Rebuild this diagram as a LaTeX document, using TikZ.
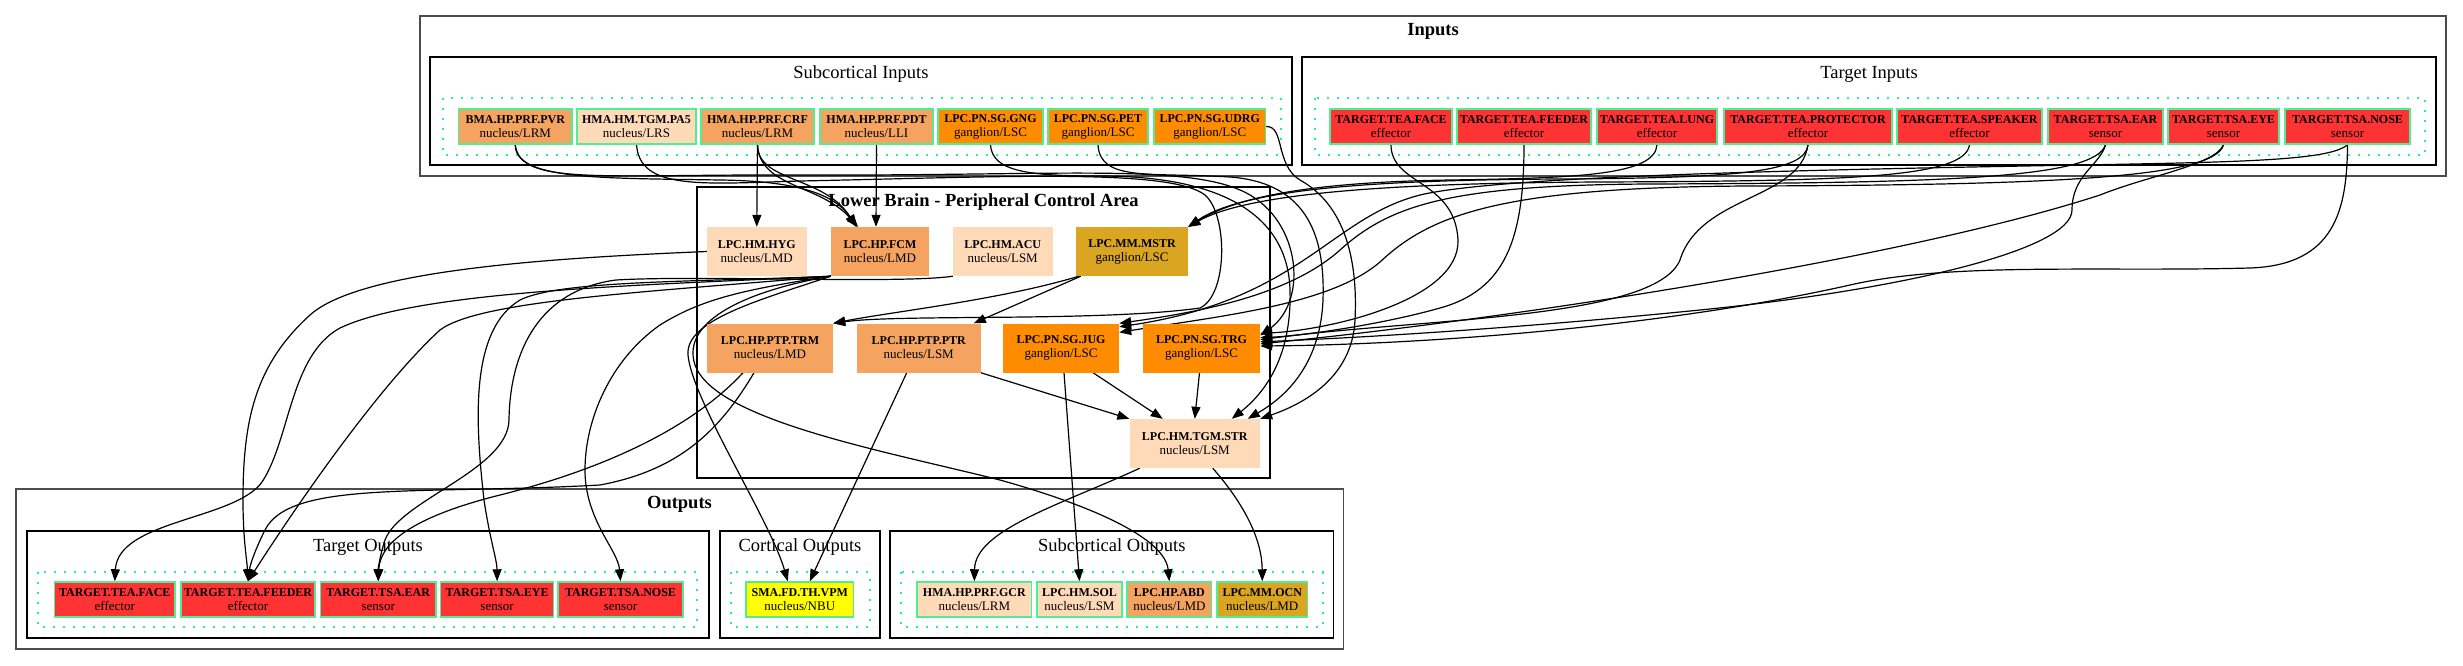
\documentclass[tikz,border=0pt]{standalone}
\usepackage{fontspec}
\setmainfont{Liberation Serif}
\usetikzlibrary{arrows.meta}
\definecolor{sandy}{HTML}{F4A460}
\definecolor{peach}{HTML}{FFDAB9}
\definecolor{dorange}{HTML}{FF8C00}
\definecolor{golden}{HTML}{DAA520}
\definecolor{tred}{HTML}{FF3333}
\definecolor{yel}{HTML}{FFFF00}
\definecolor{sgreen}{HTML}{4EEE94}
\definecolor{dotgreen}{HTML}{1CF59A}
\pgfdeclarelayer{bg}\pgfdeclarelayer{edgelayer}
\pgfsetlayers{bg,edgelayer,main}
\newcommand{\nlab}[2]{{\fontsize{12}{14}\selectfont\bfseries #1}\\{\fontsize{13}{14}\selectfont #2}}
\tikzset{
 outnode/.style={rectangle, draw=sgreen, line width=1.5pt, minimum height=35pt, inner sep=0pt, align=center, font=\fontsize{13}{14}\selectfont},
 innode/.style={rectangle, draw=none, minimum height=49pt, inner sep=0pt, align=center, font=\fontsize{13}{14}\selectfont},
 conn/.style={draw=black, line width=1.2pt, -{Triangle[length=12pt,width=9pt]}},
 bigbox/.style={draw=black!70, line width=1.8pt},
 subbox/.style={draw=black, line width=1.3pt},
 dotbox/.style={draw=dotgreen, line width=2pt, dash pattern=on 2pt off 8pt},
 ctitle/.style={anchor=base, inner sep=0pt, font=\fontsize{18.5}{20}\selectfont},
 btitle/.style={anchor=base, inner sep=0pt, font=\fontsize{18.5}{20}\selectfont\bfseries},
}
\begin{document}
\begin{tikzpicture}[x=1pt,y=-1pt]
\useasboundingbox (0,0) rectangle (2463,665);
% ---------------- clusters
\begin{pgfonlayer}{bg}
\fill[white] (0,0) rectangle (2463,665);
\draw[bigbox] (420,16) rectangle (2446,176);
\draw[subbox] (430,57) rectangle (1292,165);
\draw[subbox] (1302,57) rectangle (2436,165);
\draw[dotbox] (443,98) rectangle (1281,155);
\draw[dotbox] (1315,98) rectangle (2425,155);
\draw[subbox] (697,187) rectangle (1270,478);
\draw[bigbox] (15.6,489) rectangle (1343.5,649);
\draw[subbox] (27,531) rectangle (709,638);
\draw[subbox] (720,531) rectangle (880,638);
\draw[subbox] (890,531) rectangle (1333.5,638);
\draw[dotbox] (38,572) rectangle (697,627);
\draw[dotbox] (731,572) rectangle (869.5,627);
\draw[dotbox] (901,572) rectangle (1322.7,627);
\end{pgfonlayer}
\node[btitle] (tIn) at (1433,35) {Inputs};
\node[ctitle] (tSubIn) at (861,78) {Subcortical Inputs};
\node[ctitle] (tTarIn) at (1869,78) {Target Inputs};
\node[btitle] (tLB) at (983.5,206) {Lower Brain - Peripheral Control Area};
\node[btitle] (tOut) at (679.5,508) {Outputs};
\node[ctitle] (tTarOut) at (368,551) {Target Outputs};
\node[ctitle] (tCorOut) at (800,551) {Cortical Outputs};
\node[ctitle] (tSubOut) at (1111.75,551) {Subcortical Outputs};
% ---------------- input nodes
\node[outnode, fill=sandy, minimum width=113.5pt] (PVR) at (515.25,126.5) {\nlab{BMA.HP.PRF.PVR}{nucleus/LRM}};
\node[outnode, fill=peach, minimum width=119pt] (PAV) at (636.5,126.5) {\nlab{HMA.HM.TGM.PA5}{nucleus/LRS}};
\node[outnode, fill=sandy, minimum width=113pt] (CRF) at (757.5,126.5) {\nlab{HMA.HP.PRF.CRF}{nucleus/LRM}};
\node[outnode, fill=sandy, minimum width=113pt] (PDT) at (876.5,126.5) {\nlab{HMA.HP.PRF.PDT}{nucleus/LLI}};
\node[outnode, fill=dorange, minimum width=105pt] (GNG) at (990.5,126.5) {\nlab{LPC.PN.SG.GNG}{ganglion/LSC}};
\node[outnode, fill=dorange, minimum width=100pt] (PET) at (1098,126.5) {\nlab{LPC.PN.SG.PET}{ganglion/LSC}};
\node[outnode, fill=dorange, minimum width=111.5pt] (UDRG) at (1209.75,126.5) {\nlab{LPC.PN.SG.UDRG}{ganglion/LSC}};
\node[outnode, fill=tred, minimum width=122pt] (FACEi) at (1391,126.5) {\nlab{TARGET.TEA.FACE}{effector}};
\node[outnode, fill=tred, minimum width=134pt] (FEEDi) at (1524,126.5) {\nlab{TARGET.TEA.FEEDER}{effector}};
\node[outnode, fill=tred, minimum width=120pt] (LUNGi) at (1657,126.5) {\nlab{TARGET.TEA.LUNG}{effector}};
\node[outnode, fill=tred, minimum width=168pt] (PROTi) at (1808,126.5) {\nlab{TARGET.TEA.PROTECTOR}{effector}};
\node[outnode, fill=tred, minimum width=145pt] (SPKi) at (1969.5,126.5) {\nlab{TARGET.TEA.SPEAKER}{effector}};
\node[outnode, fill=tred, minimum width=115pt] (EARi) at (2105.5,126.5) {\nlab{TARGET.TSA.EAR}{sensor}};
\node[outnode, fill=tred, minimum width=111pt] (EYEi) at (2223.5,126.5) {\nlab{TARGET.TSA.EYE}{sensor}};
\node[outnode, fill=tred, minimum width=125pt] (NOSEi) at (2347.5,126.5) {\nlab{TARGET.TSA.NOSE}{sensor}};
% ---------------- lower brain nodes
\node[innode, fill=peach, minimum width=99.5pt] (HYG) at (756.75,251.5) {\nlab{LPC.HM.HYG}{nucleus/LMD}};
\node[innode, fill=sandy, minimum width=98pt] (FCM) at (880,251.5) {\nlab{LPC.HP.FCM}{nucleus/LMD}};
\node[innode, fill=peach, minimum width=99.5pt] (ACU) at (1002.75,251.5) {\nlab{LPC.HM.ACU}{nucleus/LSM}};
\node[innode, fill=golden, minimum width=112pt] (MSTR) at (1132,251.5) {\nlab{LPC.MM.MSTR}{ganglion/LSC}};
\node[innode, fill=sandy, minimum width=126pt] (TRM) at (770,348) {\nlab{LPC.HP.PTP.TRM}{nucleus/LMD}};
\node[innode, fill=sandy, minimum width=123.5pt] (PTR) at (918.75,348) {\nlab{LPC.HP.PTP.PTR}{nucleus/LSM}};
\node[innode, fill=dorange, minimum width=116pt] (JUG) at (1061,348) {\nlab{LPC.PN.SG.JUG}{ganglion/LSC}};
\node[innode, fill=dorange, minimum width=117pt] (TRG) at (1201.5,348) {\nlab{LPC.PN.SG.TRG}{ganglion/LSC}};
\node[innode, fill=peach, minimum width=130.5pt] (STR) at (1194.75,443.5) {\nlab{LPC.HM.TGM.STR}{nucleus/LSM}};
% ---------------- output nodes
\node[outnode, fill=tred, minimum width=120.5pt] (FACEo) at (114.75,599.5) {\nlab{TARGET.TEA.FACE}{effector}};
\node[outnode, fill=tred, minimum width=134pt] (FEEDo) at (248,599.5) {\nlab{TARGET.TEA.FEEDER}{effector}};
\node[outnode, fill=tred, minimum width=115.5pt] (EARo) at (378.25,599.5) {\nlab{TARGET.TSA.EAR}{sensor}};
\node[outnode, fill=tred, minimum width=113pt] (EYEo) at (497.1,599.5) {\nlab{TARGET.TSA.EYE}{sensor}};
\node[outnode, fill=tred, minimum width=125pt] (NOSEo) at (620.5,599.5) {\nlab{TARGET.TSA.NOSE}{sensor}};
\node[outnode, fill=yel, minimum width=107.5pt] (VPM) at (799.75,599.5) {\nlab{SMA.FD.TH.VPM}{nucleus/NBU}};
\node[outnode, fill=peach, minimum width=114.7pt] (GCR) at (974.35,599.5) {\nlab{HMA.HP.PRF.GCR}{nucleus/LRM}};
\node[outnode, fill=peach, minimum width=85pt] (SOL) at (1079.5,599.5) {\nlab{LPC.HM.SOL}{nucleus/LSM}};
\node[outnode, fill=sandy, minimum width=84.7pt] (ABD) at (1169.35,599.5) {\nlab{LPC.HP.ABD}{nucleus/LMD}};
\node[outnode, fill=golden, minimum width=90.5pt] (OCN) at (1262.25,599.5) {\nlab{LPC.MM.OCN}{nucleus/LMD}};
% ---------------- edges
\begin{pgfonlayer}{edgelayer}
% subcortical inputs
\draw[conn] (CRF.south) -- (HYG.north);
\draw[conn] (PDT.south) -- ([xshift=-4pt]FCM.north);
\draw[conn] (CRF.south) .. controls (757,182) and (825,176) .. ([xshift=-24pt]FCM.north);
\draw[conn] (CRF.south) .. controls (760,188) and (820,184) .. ([xshift=-22pt]FCM.north);
\draw[conn] (PVR.south) .. controls (515,180) and (600,178) .. (720,180) .. controls (800,181) and (835,195) .. ([xshift=-23pt]FCM.north);
\draw[conn] (PVR.south) .. controls (520,186) and (600,174) .. (800,175) .. controls (1050,176) and (1180,164) .. (1240,190) .. controls (1300,215) and (1310,300) .. (TRG.12);
\draw[conn] (PAV.south) .. controls (640,190) and (700,184) .. (800,181) .. controls (1000,177) and (1170,168) .. (1205,195) .. controls (1228,215) and (1228,295) .. (1200,308) .. controls (1100,322) and (900,314) .. (TRM.north east);
\draw[conn] (GNG.south) .. controls (992,172) and (1030,176) .. (1100,176) .. controls (1230,176) and (1288,220) .. (1290,290) .. controls (1292,360) and (1262,395) .. ([xshift=37pt]STR.north);
\draw[conn] (PET.south) .. controls (1100,182) and (1150,172) .. (1230,177) .. controls (1310,183) and (1325,240) .. (1323,300) .. controls (1320,370) and (1280,400) .. ([xshift=53pt]STR.north);
\draw[conn] (UDRG.east) .. controls (1285,126) and (1275,165) .. (1300,180) .. controls (1345,205) and (1358,260) .. (1355,320) .. controls (1352,380) and (1300,405) .. (STR.north east);
% target inputs
\draw[conn] (FACEi.south) .. controls (1391,185) and (1455,180) .. (1458,240) .. controls (1460,300) and (1330,330) .. (TRG.14);
\draw[conn] (FEEDi.south) .. controls (1524,240) and (1505,290) .. (1440,308) .. controls (1380,325) and (1300,336) .. (TRG.10);
\draw[conn] (PROTi.south) .. controls (1800,200) and (1700,195) .. (1680,260) .. controls (1655,320) and (1420,318) .. (TRG.8);
\draw[conn] (EARi.south) .. controls (2100,165) and (2072,175) .. (2072,210) .. controls (2072,250) and (1900,290) .. (1700,310) .. controls (1500,330) and (1350,338) .. (TRG.6);
\draw[conn] (EYEi.south) .. controls (2215,165) and (2150,175) .. (2100,195) .. controls (1900,260) and (1500,320) .. (TRG.4);
\draw[conn] (NOSEi.south) .. controls (2347,210) and (2335,265) .. (2250,268) .. controls (2100,272) and (1950,262) .. (1850,285) .. controls (1650,330) and (1400,345) .. (TRG.2);
\draw[conn] (LUNGi.south) .. controls (1655,175) and (1580,178) .. (1450,180) .. controls (1320,182) and (1240,195) .. (MSTR.north east);
\draw[conn] (SPKi.south) .. controls (1965,178) and (1850,181) .. (1600,182) .. controls (1400,183) and (1250,192) .. (MSTR.north east);
\draw[conn] (PROTi.south) .. controls (1805,172) and (1740,178) .. (1560,179) .. controls (1380,180) and (1245,188) .. (MSTR.north east);
\draw[conn] (EARi.south) .. controls (2095,178) and (1950,183) .. (1650,184) .. controls (1450,185) and (1390,205) .. (1340,250) .. controls (1290,295) and (1200,312) .. (JUG.north east);
\draw[conn] (EYEi.south) .. controls (2215,178) and (2050,185) .. (1750,186) .. controls (1500,187) and (1430,215) .. (1380,262) .. controls (1330,305) and (1220,316) .. (JUG.15);
\draw[conn] (NOSEi.south) .. controls (2330,160) and (2250,162) .. (2080,165) .. controls (1800,170) and (1500,176) .. (1420,195) .. controls (1330,218) and (1300,300) .. (JUG.20);
% lower brain internal
\draw[conn] ([xshift=3pt]MSTR.south west) .. controls (1000,300) and (890,312) .. (TRM.north east);
\draw[conn] ([xshift=5pt]MSTR.south west) -- ([xshift=55pt]PTR.north);
\draw[conn] (PTR.south east) -- (STR.north west);
\draw[conn] ([xshift=32pt]JUG.south) -- ([xshift=-32pt]STR.north);
\draw[conn] ([xshift=-2pt]TRG.south) -- (STR.north);
% outputs
\draw[conn] (HYG.west) .. controls (550,258) and (360,270) .. (310,315) .. controls (255,365) and (243,420) .. (243,500) .. controls (243,540) and (247,560) .. (FEEDo.north);
\draw[conn] (FCM.south west) .. controls (650,285) and (420,290) .. (340,328) .. controls (290,355) and (290,440) .. (262,482) .. controls (235,520) and (118,520) .. (FACEo.north);
\draw[conn] (FCM.south west) .. controls (650,292) and (480,300) .. (440,330) .. controls (380,385) and (300,500) .. (FEEDo.north);
\draw[conn] (FCM.south west) .. controls (700,282) and (560,280) .. (520,300) .. controls (470,330) and (475,420) .. (484,500) .. controls (490,540) and (497,560) .. (EYEo.north);
\draw[conn] (ACU.south west) .. controls (900,284) and (700,275) .. (616,280) .. controls (540,290) and (510,350) .. (509,420) .. controls (508,470) and (400,500) .. (385,540) .. controls (380,555) and (378,570) .. (EARo.north);
\draw[conn] (FCM.south west) .. controls (740,290) and (700,300) .. (660,325) .. controls (610,360) and (585,420) .. (585,470) .. controls (585,520) and (618,550) .. (NOSEo.north);
\draw[conn] (FCM.south west) .. controls (760,300) and (685,320) .. (688,355) .. controls (692,400) and (770,520) .. ([xshift=-12pt]VPM.north);
\draw[conn] (FCM.south west) .. controls (750,290) and (680,320) .. (695,365) .. controls (715,420) and (880,450) .. (1000,480) .. controls (1100,508) and (1165,540) .. (ABD.north);
\draw[conn] ([xshift=-27pt]TRM.south) .. controls (690,430) and (600,470) .. (500,495) .. controls (420,515) and (380,540) .. (EARo.north);
\draw[conn] ([xshift=-16pt]TRM.south) .. controls (720,430) and (680,470) .. (600,485) .. controls (420,495) and (290,480) .. (265,530) .. controls (255,550) and (250,565) .. (FEEDo.north);
\draw[conn] ([xshift=-12pt]PTR.south) -- ([xshift=10pt]VPM.north);
\draw[conn] ([xshift=3pt]JUG.south) -- (SOL.north);
\draw[conn] ([xshift=-55pt]STR.south) .. controls (1060,505) and (975,530) .. (GCR.north);
\draw[conn] ([xshift=18pt]STR.south) .. controls (1245,505) and (1262,540) .. (OCN.north);
\end{pgfonlayer}
\end{tikzpicture}
\end{document}
